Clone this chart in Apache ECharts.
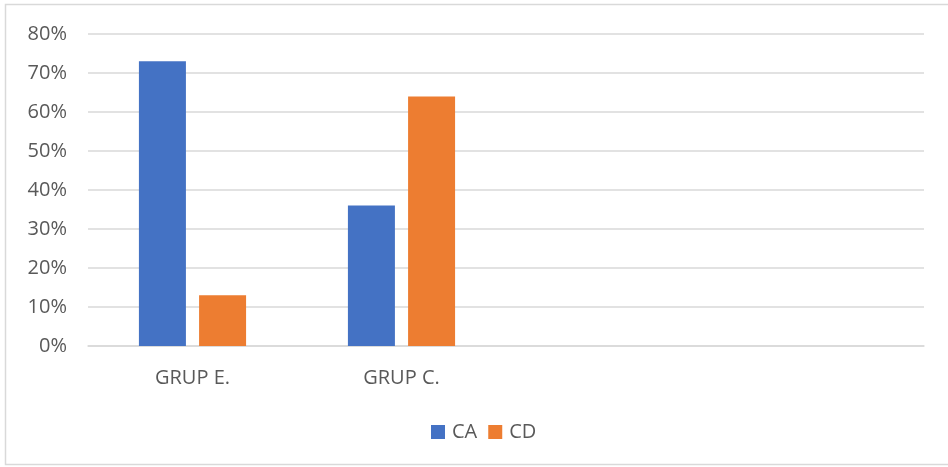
<!DOCTYPE html>
<html>
<head>
<meta charset="utf-8">
<script src="https://cdn.jsdelivr.net/npm/echarts@6/dist/echarts.min.js"></script>
<style>
  html, body { margin: 0; padding: 0; background: #fff; }
  #chart { width: 948px; height: 467px; }
</style>
</head>
<body>
<div id="chart"></div>
<script>
// categories (last two are empty slots in the original)
const categories = ['GRUP E.', 'GRUP C.', '', ''];
const caValues = [73, 36, null, null];
const cdValues = [13, 64, null, null];
const yTicks = [0, 10, 20, 30, 40, 50, 60, 70, 80];

const txt = '#595959';
const font = '"Open Sans", "Noto Sans", sans-serif';

const chart = echarts.init(document.getElementById('chart'));
chart.setOption({
  backgroundColor: '#fff',
  animation: false,
  textStyle: { fontFamily: font },
  graphic: [{
    type: 'rect',
    shape: { x: 5.5, y: 4.5, width: 960, height: 460 },
    style: { fill: 'none', stroke: '#d9d9d9', lineWidth: 1.5 }
  }],
  grid: { left: 88, right: 24, top: 34, bottom: 121 },
  legend: {
    bottom: 20,
    left: 426,
    itemWidth: 14,
    itemHeight: 14,
    itemGap: 11,
    icon: 'rect',
    textStyle: { color: txt, fontSize: 20, fontFamily: font, padding: [0, 0, 0, 2] },
    data: ['CA', 'CD']
  },
  xAxis: {
    type: 'category',
    data: categories,
    axisLine: { show: true, lineStyle: { color: '#d9d9d9', width: 1.5 } },
    axisTick: { show: false },
    axisLabel: { color: txt, fontSize: 20, margin: 22, fontFamily: font }
  },
  yAxis: {
    type: 'value',
    min: yTicks[0],
    max: yTicks[yTicks.length - 1],
    interval: 10,
    axisLine: { show: false },
    axisTick: { show: false },
    splitLine: { lineStyle: { color: '#d9d9d9', width: 1.5 } },
    axisLabel: { color: txt, fontSize: 20, margin: 21, formatter: '{value}%', fontFamily: font }
  },
  series: [
    {
      name: 'CA',
      type: 'bar',
      data: caValues,
      barWidth: 47,
      barGap: '28%',
      itemStyle: { color: '#4472c4' }
    },
    {
      name: 'CD',
      type: 'bar',
      data: cdValues,
      barWidth: 47,
      itemStyle: { color: '#ed7d31' }
    }
  ]
});
</script>
</body>
</html>
